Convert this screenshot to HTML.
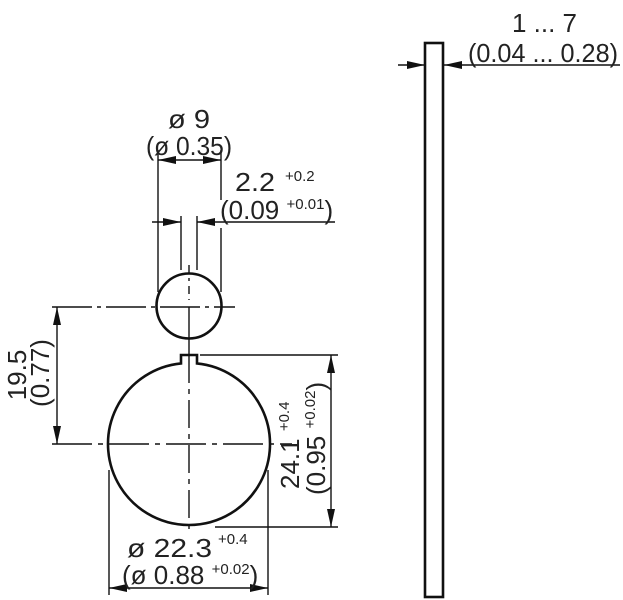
<!DOCTYPE html>
<html><head><style>
html,body{margin:0;padding:0;background:#fff;}
svg{display:block;}
text{font-family:"Liberation Sans",sans-serif;fill:#222;font-size:26px;}
text.s,tspan.s{font-size:15px;}
</style></head><body>
<svg width="623" height="600" viewBox="0 0 623 600" xmlns="http://www.w3.org/2000/svg">
<defs>
<marker id="a" markerWidth="18" markerHeight="8" refX="18" refY="4" orient="auto" markerUnits="userSpaceOnUse"><path d="M0,0 L18,4 L0,8 z" fill="#111"/></marker>
</defs>
<g stroke="#111" fill="none" stroke-width="1.4">
<line x1="158" y1="150" x2="158" y2="292"/>
<line x1="221" y1="150" x2="221" y2="200"/>
<line x1="221" y1="228" x2="221" y2="292"/>
<line x1="181" y1="216" x2="181" y2="270"/>
<line x1="197" y1="216" x2="197" y2="270"/>
<line x1="189" y1="160" x2="158" y2="160" marker-end="url(#a)"/>
<line x1="189" y1="160" x2="221" y2="160" marker-end="url(#a)"/>
<line x1="152" y1="222" x2="181" y2="222" marker-end="url(#a)"/>
<line x1="335" y1="222" x2="197" y2="222" marker-end="url(#a)"/>
<line x1="52" y1="307" x2="235" y2="307" stroke-dasharray="40,5,4,5"/>
<line x1="189" y1="265" x2="189" y2="300" stroke-dasharray="8,5,3,5"/>
<line x1="189" y1="307" x2="189" y2="355"/>
<line x1="52" y1="444" x2="292" y2="444" stroke-dasharray="40,6,5,6"/>
<line x1="189" y1="355" x2="189" y2="532" stroke-dasharray="28,6,5,6"/>
<line x1="57" y1="375" x2="57" y2="307" marker-end="url(#a)"/>
<line x1="57" y1="375" x2="57" y2="444" marker-end="url(#a)"/>
<line x1="200" y1="355" x2="338" y2="355"/>
<line x1="215" y1="527" x2="338" y2="527"/>
<line x1="331" y1="440" x2="331" y2="355" marker-end="url(#a)"/>
<line x1="331" y1="440" x2="331" y2="527" marker-end="url(#a)"/>
<line x1="109" y1="470" x2="109" y2="595"/>
<line x1="268" y1="470" x2="268" y2="595"/>
<line x1="188" y1="588" x2="109" y2="588" marker-end="url(#a)"/>
<line x1="188" y1="588" x2="268" y2="588" marker-end="url(#a)"/>
<line x1="398" y1="65" x2="425" y2="65" marker-end="url(#a)"/>
<line x1="620" y1="65" x2="444" y2="65" marker-end="url(#a)"/>
</g>
<g stroke="#111" fill="none" stroke-width="2.6">
<circle cx="189" cy="306" r="32.5"/>
<path d="M181,363.4 L181,355 L197,355 L197,363.4 A81,81 0 1 1 181,363.4 Z"/>
<rect x="425" y="43" width="18" height="554"/>
</g>
<text x="168" y="128" textLength="42" lengthAdjust="spacingAndGlyphs">ø 9</text>
<text x="146" y="155" textLength="86" lengthAdjust="spacingAndGlyphs">(ø 0.35)</text>
<text x="235" y="191" textLength="40" lengthAdjust="spacingAndGlyphs">2.2</text>
<text x="285" y="181" class="s">+0.2</text>
<text x="220" y="219">(0.09 <tspan class="s" dy="-10">+0.01</tspan><tspan dy="10">)</tspan></text>
<text x="512" y="32" textLength="65" lengthAdjust="spacingAndGlyphs">1 ... 7</text>
<text x="468" y="62" textLength="150" lengthAdjust="spacingAndGlyphs">(0.04 ... 0.28)</text>
<text x="127" y="557" textLength="85" lengthAdjust="spacingAndGlyphs">ø 22.3</text>
<text x="218" y="544" class="s">+0.4</text>
<text x="122" y="584">(ø 0.88 <tspan class="s" dy="-10">+0.02</tspan><tspan dy="10">)</tspan></text>
<text transform="translate(26,375) rotate(-90)" text-anchor="middle">19.5</text>
<text transform="translate(49,373) rotate(-90)" text-anchor="middle">(0.77)</text>
<text transform="translate(299,489) rotate(-90)">24.1 <tspan class="s" dy="-10">+0.4</tspan></text>
<text transform="translate(325,495) rotate(-90)">(0.95 <tspan class="s" dy="-10">+0.02</tspan><tspan dy="10">)</tspan></text>
</svg>
</body></html>
